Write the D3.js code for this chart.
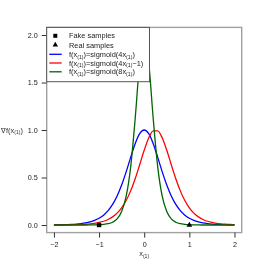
<!DOCTYPE html>
<html><head><meta charset="utf-8">
<script src="https://cdn.jsdelivr.net/npm/d3@7"></script>
<style>html,body{margin:0;padding:0;background:#fff;}svg{display:block;font-family:"Liberation Sans",Arial,sans-serif;opacity:0.999;will-change:transform;}</style>
</head><body>
<script>
const xs = [-2,-1.9,-1.8,-1.7,-1.6,-1.5,-1.4,-1.3,-1.2,-1.1,-1,-0.9,-0.8,-0.7,-0.6,-0.5,-0.4,-0.3,-0.2,-0.1,0,0.1,0.2,0.3,0.4,0.5,0.6,0.7,0.8,0.9,1,1.1,1.2,1.3,1.4,1.5,1.6,1.7,1.8,1.9,2];
const blueY = [0.0013,0.0020,0.0030,0.0045,0.0066,0.0099,0.0147,0.0218,0.0324,0.0479,0.0707,0.1036,0.1505,0.2162,0.3050,0.4200,0.5590,0.7116,0.8556,0.9610,1.0000,0.9610,0.8556,0.7116,0.5590,0.4200,0.3050,0.2162,0.1505,0.1036,0.0707,0.0479,0.0324,0.0218,0.0147,0.0099,0.0066,0.0045,0.0030,0.0020,0.0013];
const redY = [0.0005,0.0007,0.0011,0.0016,0.0024,0.0036,0.0054,0.0081,0.0121,0.0180,0.0266,0.0394,0.0582,0.0856,0.1250,0.1807,0.2574,0.3592,0.4869,0.6347,0.7864,0.9151,0.9901,0.9901,0.9151,0.7864,0.6347,0.4869,0.3592,0.2574,0.1807,0.1250,0.0856,0.0582,0.0394,0.0266,0.0180,0.0121,0.0081,0.0054,0.0036];
const greenY = [0,0,0,0,0,0,0.0001,0.0002,0.0005,0.0012,0.0027,0.0060,0.0133,0.0294,0.0647,0.1413,0.3010,0.6100,1.1181,1.7113,2.0000,1.7113,1.1181,0.6100,0.3010,0.1413,0.0647,0.0294,0.0133,0.0060,0.0027,0.0012,0.0005,0.0002,0.0001,0,0,0,0,0,0];
const fakeX = [-1], fakeY = [0];
const realX = [1], realY = [0];
const xTicks = [-2,-1,0,1,2];
const yTicks = [0,0.5,1,1.5,2];
const seriesColors = ["#0000ff","#ff0000","#006400"];

const W=270,H=270;
const svg=d3.select("body").append("svg").attr("width",W).attr("height",H);
const L=46.7,R=241.7,T=27.4,B=232.6;
const x=d3.scaleLinear().domain([-2.16,2.16]).range([L,R]);
const y=d3.scaleLinear().domain([-0.08,2.08]).range([B,T]);

svg.append("clipPath").attr("id","clip").append("rect").attr("x",L).attr("y",T).attr("width",R-L).attr("height",B-T);

const series=[blueY,redY,greenY];
const line=d3.line().x((d,i)=>x(xs[i])).y(d=>y(d)).curve(d3.curveMonotoneX);
const g=svg.append("g").attr("clip-path","url(#clip)");
series.forEach((s,k)=>{
  g.append("path").attr("d",line(s)).attr("fill","none").attr("stroke",seriesColors[k]).attr("stroke-width",1.3);
});
g.selectAll("rect.fake").data(fakeX).enter().append("rect")
  .attr("x",(d)=>x(d)-2.2).attr("y",(d,i)=>y(fakeY[i])-2.2).attr("width",4.4).attr("height",4.4).attr("fill","#000");
const tri=d3.symbol().type(d3.symbolTriangle).size(14);
g.selectAll("path.real").data(realX).enter().append("path")
  .attr("d",tri).attr("transform",(d,i)=>`translate(${x(d)},${y(realY[i])})`).attr("fill","#000");

svg.append("rect").attr("x",L).attr("y",T).attr("width",R-L).attr("height",B-T)
  .attr("fill","none").attr("stroke","#a0a0a0").attr("stroke-width",1.4);

const xa=d3.axisBottom(x).tickValues(xTicks).tickFormat(d=>d<0?"\u2212"+Math.abs(d):d).tickSize(5).tickPadding(4);
const xg=svg.append("g").attr("transform",`translate(0,${B})`).call(xa);
xg.select(".domain").remove();
xg.selectAll("line").attr("stroke","#333");
xg.selectAll("text").attr("font-size",7.2).attr("fill","#222").attr("font-family","Liberation Sans, Arial, sans-serif");
const ya=d3.axisLeft(y).tickValues(yTicks).tickFormat(d3.format(".1f")).tickSize(5).tickPadding(4);
const yg=svg.append("g").attr("transform",`translate(${L},0)`).call(ya);
yg.select(".domain").remove();
yg.selectAll("line").attr("stroke","#333");
yg.selectAll("text").attr("font-size",7.2).attr("fill","#222").attr("font-family","Liberation Sans, Arial, sans-serif");

const xl=svg.append("text").attr("x",x(0)).attr("y",256).attr("text-anchor","middle").attr("font-size",7.4).attr("fill","#333");
xl.append("tspan").text("x");
xl.append("tspan").attr("font-size",5.2).attr("dy",1.8).text("(1)");
const yl=svg.append("text").attr("x",1).attr("y",y(1)+2.5).attr("font-size",7.4).attr("fill","#333");
yl.append("tspan").text("\u2207f(x");
yl.append("tspan").attr("font-size",5.2).attr("dy",1.8).text("(1)");
yl.append("tspan").attr("dy",-1.8).text(")");

const lg=svg.append("g");
lg.append("rect").attr("x",L).attr("y",T).attr("width",149.5-L).attr("height",81.7-T)
  .attr("fill","#fff").attr("stroke","#555").attr("stroke-width",1);
const rowY=[35.8,45,54.3,63,71.8];
const tx=69;
lg.append("rect").attr("x",55.3-2).attr("y",rowY[0]-2).attr("width",4).attr("height",4).attr("fill","#000");
lg.append("path").attr("d",d3.symbol().type(d3.symbolTriangle).size(13)).attr("transform",`translate(55.3,${rowY[1]})`).attr("fill","#000");
function lt(yy){return lg.append("text").attr("x",tx).attr("y",yy+2.6).attr("font-size",7.4).attr("fill","#222");}
lt(rowY[0]).text("Fake samples");
lt(rowY[1]).text("Real samples");
const forms=[["4x",""],["4x","\u22121"],["8x",""]];
forms.forEach((f,k)=>{
  const yy=rowY[2+k];
  lg.append("line").attr("x1",49.3).attr("x2",61.7).attr("y1",yy).attr("y2",yy).attr("stroke",seriesColors[k]).attr("stroke-width",1.3);
  const t=lt(yy);
  t.append("tspan").text("f(x");
  t.append("tspan").attr("font-size",5.2).attr("dy",1.6).text("(1)");
  t.append("tspan").attr("dy",-1.6).text(")=sigmoid("+f[0]);
  t.append("tspan").attr("font-size",5.2).attr("dy",1.6).text("(1)");
  t.append("tspan").attr("dy",-1.6).text(f[1]+")");
});
</script>
</body></html>
